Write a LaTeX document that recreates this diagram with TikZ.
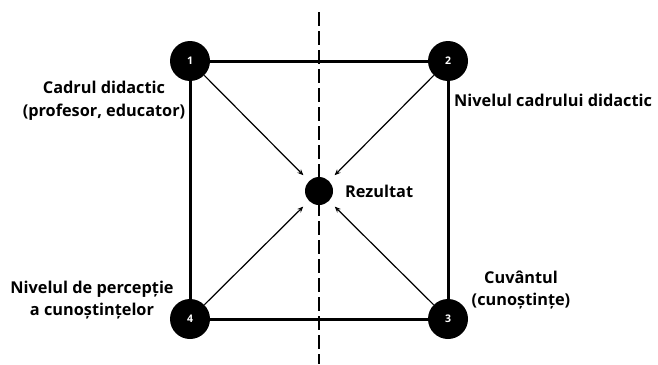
\documentclass[tikz,border=0pt]{standalone}
\usepackage{fontspec}
\setmainfont{Open Sans}
\usetikzlibrary{arrows.meta}
\tikzset{
  corner/.style={circle, fill=black, minimum size=40pt, inner sep=0pt,
    text=white, font=\bfseries\fontsize{10.5}{12}\selectfont},
  hub/.style={circle, fill=black, minimum size=28pt, inner sep=0pt},
  side/.style={line width=3pt},
  flow/.style={line width=1.2pt, -{Stealth[length=6pt,width=5pt]}, shorten >=8pt},
  axis/.style={line width=2.6pt, dash pattern=on 14pt off 5pt},
  lbl/.style={font=\bfseries\fontsize{16.3}{22.5}\selectfont, align=center, inner sep=0pt}
}
\begin{document}
\begin{tikzpicture}[x=1pt, y=-1pt]
  \useasboundingbox (0,0) rectangle (658,364);
  % vertical dashed axis
  \coordinate (axtop) at (319,12);
  \coordinate (axbot) at (319,364);
  \draw[axis] (axtop) -- (axbot);
  % corners and result
  \node[corner] (n1) at (190,61) {1};
  \node[corner] (n2) at (448,61) {2};
  \node[corner] (n3) at (448,319) {3};
  \node[corner] (n4) at (190,319) {4};
  \node[hub] (r) at (319,191) {};
  % square sides
  \draw[side] (n1) -- (n2);
  \draw[side] (n2) -- (n3);
  \draw[side] (n3) -- (n4);
  \draw[side] (n4) -- (n1);
  % arrows toward the result
  \draw[flow] (n1) -- (r);
  \draw[flow] (n2) -- (r);
  \draw[flow] (n3) -- (r);
  \draw[flow] (n4) -- (r);
  % labels
  \node[lbl] (l1) at (104,101) {Cadrul didactic\\(profesor, educator)};
  \node[lbl, anchor=west] (l2) at (454,100) {Nivelul cadrului didactic};
  \node[lbl] (l3) at (521,290) {Cuvântul\\(cunoștințe)};
  \node[lbl] (l4) at (92,300) {Nivelul de percepție\\a cunoștințelor};
  \node[lbl, anchor=west] (lr) at (345,191) {Rezultat};
\end{tikzpicture}
\end{document}
